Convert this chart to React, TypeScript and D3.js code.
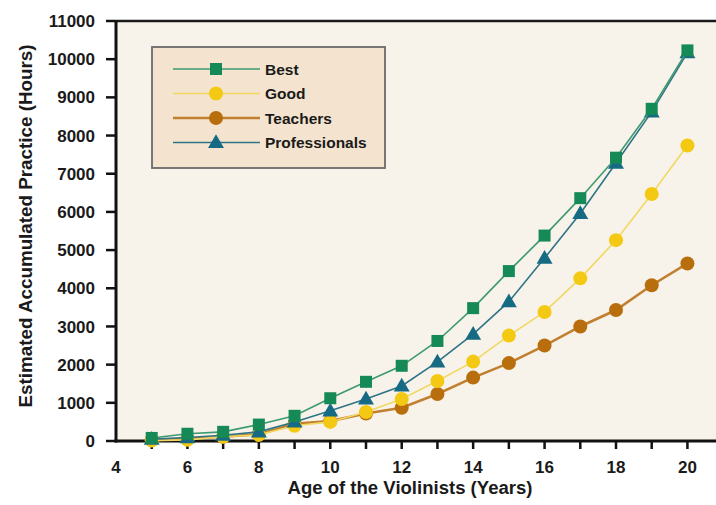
import { useEffect, useRef } from "react";
import * as d3 from "d3";

const ages = [5, 6, 7, 8, 9, 10, 11, 12, 13, 14, 15, 16, 17, 18, 19, 20];
const best = [80, 190, 240, 430, 660, 1120, 1550, 1970, 2620, 3480, 4450, 5380, 6360, 7420, 8700, 10230];
const good = [10, 30, 110, 160, 400, 500, 760, 1100, 1570, 2080, 2760, 3380, 4260, 5260, 6470, 7740];
const teachers = [30, 60, 110, 180, 450, 520, 720, 870, 1230, 1660, 2040, 2500, 3000, 3430, 4080, 4650];
const professionals = [50, 90, 150, 240, 500, 790, 1100, 1440, 2070, 2800, 3650, 4790, 5960, 7280, 8620, 10170];

const yTicks = d3.range(0, 11001, 1000);
const xTickLabels = [4, 6, 8, 10, 12, 14, 16, 18, 20];

const series = [
  { name: "Best", values: best, color: "#168a56", line: "#3d9a70", lw: 1.6, shape: "square" },
  { name: "Good", values: good, color: "#f4c914", line: "#f0d862", lw: 1.6, shape: "circle" },
  { name: "Teachers", values: teachers, color: "#b86e0c", line: "#c08030", lw: 2.6, shape: "circle" },
  { name: "Professionals", values: professionals, color: "#166a84", line: "#2e7486", lw: 1.6, shape: "triangle" },
];

const W = 716;
const H = 505;
const left = 116;
const top = 21;
const bottom = 441;

function App() {
  const svgRef = useRef<SVGSVGElement | null>(null);

  useEffect(() => {
    if (!svgRef.current) return;
    const svg = d3.select(svgRef.current);
    svg.selectAll("*").remove();

    const x = d3.scaleLinear().domain([4, 20.8]).range([left, W]);
    const y = d3.scaleLinear().domain([0, 11000]).range([bottom, top]);
    const font = "'Liberation Sans', Arial, sans-serif";

    svg.append("rect").attr("width", W).attr("height", H).attr("fill", "#ffffff");
    svg
      .append("rect")
      .attr("x", left)
      .attr("y", top)
      .attr("width", W - left)
      .attr("height", bottom - top)
      .attr("fill", "#f8f3ea");

    // top border
    svg.append("line").attr("x1", left).attr("x2", W).attr("y1", top).attr("y2", top)
      .attr("stroke", "#1a1a1a").attr("stroke-width", 2.5);

    // y axis
    svg.append("line").attr("x1", left).attr("x2", left).attr("y1", top).attr("y2", bottom + 1.5)
      .attr("stroke", "#111").attr("stroke-width", 3);
    const yg = svg.append("g");
    yTicks.forEach((t) => {
      yg.append("line").attr("x1", left - 10).attr("x2", left).attr("y1", y(t)).attr("y2", y(t))
        .attr("stroke", "#111").attr("stroke-width", 2.5);
      yg.append("text").attr("x", 95).attr("y", y(t)).attr("dy", "0.36em")
        .attr("text-anchor", "end").attr("font-family", font).attr("font-weight", "bold")
        .attr("font-size", 17).attr("fill", "#1a1a1a").text(t);
    });

    // x axis
    svg.append("line").attr("x1", left - 1.5).attr("x2", W).attr("y1", bottom).attr("y2", bottom)
      .attr("stroke", "#111").attr("stroke-width", 3);
    const xg = svg.append("g");
    ages.forEach((a) => {
      xg.append("line").attr("x1", x(a)).attr("x2", x(a)).attr("y1", bottom).attr("y2", bottom + 8)
        .attr("stroke", "#111").attr("stroke-width", 2.5);
    });
    xTickLabels.forEach((a) => {
      xg.append("text").attr("x", x(a)).attr("y", 473)
        .attr("text-anchor", "middle").attr("font-family", font).attr("font-weight", "bold")
        .attr("font-size", 17).attr("fill", "#1a1a1a").text(a);
    });

    svg.append("text").attr("x", 410).attr("y", 494).attr("text-anchor", "middle")
      .attr("font-family", font).attr("font-weight", "bold").attr("font-size", 18)
      .attr("textLength", 245).attr("lengthAdjust", "spacingAndGlyphs")
      .attr("fill", "#1a1a1a").text("Age of the Violinists (Years)");
    svg.append("text").attr("transform", `translate(32,226) rotate(-90)`)
      .attr("text-anchor", "middle").attr("font-family", font).attr("font-weight", "bold")
      .attr("font-size", 18).attr("textLength", 363).attr("lengthAdjust", "spacingAndGlyphs")
      .attr("fill", "#1a1a1a").text("Estimated Accumulated Practice (Hours)");

    const drawMarker = (g: any, shape: string, cx: number, cy: number, color: string) => {
      if (shape === "square") {
        g.append("rect").attr("x", cx - 6).attr("y", cy - 6).attr("width", 12).attr("height", 12)
          .attr("fill", color);
      } else if (shape === "circle") {
        g.append("circle").attr("cx", cx).attr("cy", cy).attr("r", 7).attr("fill", color);
      } else {
        g.append("path")
          .attr("d", d3.symbol().type(d3.symbolTriangle).size(110)())
          .attr("transform", `translate(${cx},${cy + 1})`)
          .attr("fill", color);
      }
    };

    const line = d3.line<number>().x((_, i) => x(ages[i])).y((v) => y(v));
    const order = ["Teachers", "Good", "Professionals", "Best"];
    order.forEach((nm) => {
      const s = series.find((d) => d.name === nm)!;
      const g = svg.append("g");
      g.append("path").attr("d", line(s.values)).attr("fill", "none")
        .attr("stroke", s.line).attr("stroke-width", s.lw);
      s.values.forEach((v, i) => drawMarker(g, s.shape, x(ages[i]), y(v), s.color));
    });

    // legend
    const lg = svg.append("g");
    lg.append("rect").attr("x", 152).attr("y", 47).attr("width", 233).attr("height", 121)
      .attr("fill", "#f4e4cf").attr("stroke", "#6a6a6a").attr("stroke-width", 1.8);
    series.forEach((s, i) => {
      const ly = 69 + i * 24.5;
      lg.append("line").attr("x1", 173).attr("x2", 260).attr("y1", ly).attr("y2", ly)
        .attr("stroke", s.line).attr("stroke-width", s.lw);
      drawMarker(lg, s.shape, 216, ly, s.color);
      lg.append("text").attr("x", 265).attr("y", ly).attr("dy", "0.36em")
        .attr("font-family", font).attr("font-weight", "bold").attr("font-size", 15.5)
        .attr("fill", "#1a1a1a").text(s.name);
    });
  }, []);

  return (
    <svg
      ref={svgRef}
      width={W}
      height={H}
      style={{ position: "absolute", left: 0, top: 0 }}
    />
  );
}

export default App;
